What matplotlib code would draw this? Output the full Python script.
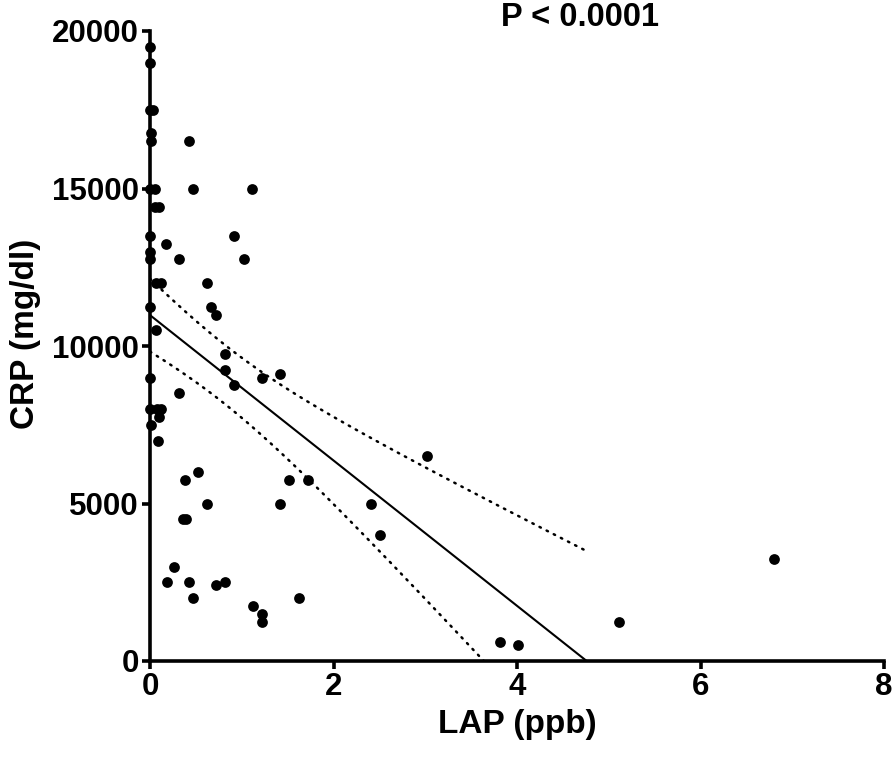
import numpy as np
import matplotlib
matplotlib.use("Agg")
import matplotlib.pyplot as plt

plt.rcParams['font.family'] = ['Liberation Sans', 'DejaVu Sans']
plt.rcParams['font.weight'] = 'bold'

# LAP (ppb) values
lap = [0.0, 0.0, 0.0, 0.03, 0.01, 0.01, 0.0, 0.05, 0.05, 0.10,
       0.0, 0.0, 0.0, 0.07, 0.12, 0.0, 0.07, 0.0, 0.0, 0.08,
       0.12, 0.10, 0.01, 0.09, 0.42, 0.47, 1.11, 0.92, 0.17, 0.32,
       1.02, 0.62, 0.67, 0.72, 0.82, 0.82, 1.22, 1.42, 0.92, 0.32,
       0.52, 0.38, 1.52, 1.72, 0.62, 1.42, 0.36, 0.39, 0.26, 0.19,
       0.42, 0.72, 0.82, 0.47, 1.62, 1.12, 1.22, 1.22, 3.02, 2.41,
       2.51, 3.81, 4.01, 5.11, 6.80]
# CRP (mg/dl) values
crp = [19500, 19000, 17500, 17500, 16750, 16500, 15000, 15000, 14400, 14400,
       13500, 13000, 12750, 12000, 12000, 11250, 10500, 9000, 8000, 8000,
       8000, 7750, 7500, 7000, 16500, 15000, 15000, 13500, 13250, 12750,
       12750, 12000, 11250, 11000, 9750, 9250, 9000, 9100, 8750, 8500,
       6000, 5750, 5750, 5750, 5000, 5000, 4500, 4500, 3000, 2500,
       2500, 2400, 2500, 2000, 2000, 1750, 1500, 1250, 6500, 5000,
       4000, 600, 500, 1250, 3250]

# Linear fit and 95% confidence band
fit_intercept = 10980.0
fit_slope = -2307.0
band_center_x = 0.8        # x where the band is narrowest
band_min_half = 938.0      # half-width of the band at its narrowest
band_spread = 720000.0     # growth of squared half-width per unit^2 of x

x_ticks = [0, 2, 4, 6, 8]
y_ticks = [0, 5000, 10000, 15000, 20000]
p_text = "P < 0.0001"

x = np.array(lap, dtype=float)
y = np.array(crp, dtype=float)

x_end = -fit_intercept / fit_slope
xs = np.linspace(0, x_end, 300)
yfit = fit_intercept + fit_slope * xs
half = np.sqrt(band_min_half ** 2 + band_spread * (xs - band_center_x) ** 2)

fig = plt.figure(figsize=(8.94, 7.6), dpi=100)
ax = fig.add_axes([150 / 894, 1 - 661 / 760, 734 / 894, 630 / 760])

ax.plot(xs, yfit, color='black', lw=1.5, zorder=2)
ax.plot(xs, yfit + half, color='black', lw=1.8, linestyle=(0, (0.6, 2.6)),
        dash_capstyle='round', zorder=2)
ax.plot(xs, yfit - half, color='black', lw=1.8, linestyle=(0, (0.6, 2.6)),
        dash_capstyle='round', zorder=2)
ax.scatter(x, y, s=60, color='black', zorder=5, clip_on=False, linewidths=0)

ax.set_xlim(0, 8)
ax.set_ylim(0, 20000)
ax.set_xticks(x_ticks)
ax.set_yticks(y_ticks)
ax.set_xticklabels([str(v) for v in x_ticks])
ax.set_yticklabels([str(v) for v in y_ticks])

for side in ['top', 'right']:
    ax.spines[side].set_visible(False)
for side in ['left', 'bottom']:
    ax.spines[side].set_linewidth(2.6)
ax.tick_params(axis='both', direction='out', length=6, width=2.6,
               labelsize=22.5, pad=2)
for lab in ax.get_xticklabels() + ax.get_yticklabels():
    lab.set_fontweight('bold')

ax.set_xlabel("LAP (ppb)", fontsize=24, fontweight='bold', labelpad=5)
ax.set_ylabel("CRP (mg/dl)", fontsize=24, fontweight='bold')
ax.yaxis.set_label_coords((41 - 150) / 734, 0.52)

fig.text(580 / 894, 1 - 18 / 760, p_text, ha='center', va='center',
         fontsize=23.5, fontweight='bold')

fig.savefig("out.png", dpi=100)
